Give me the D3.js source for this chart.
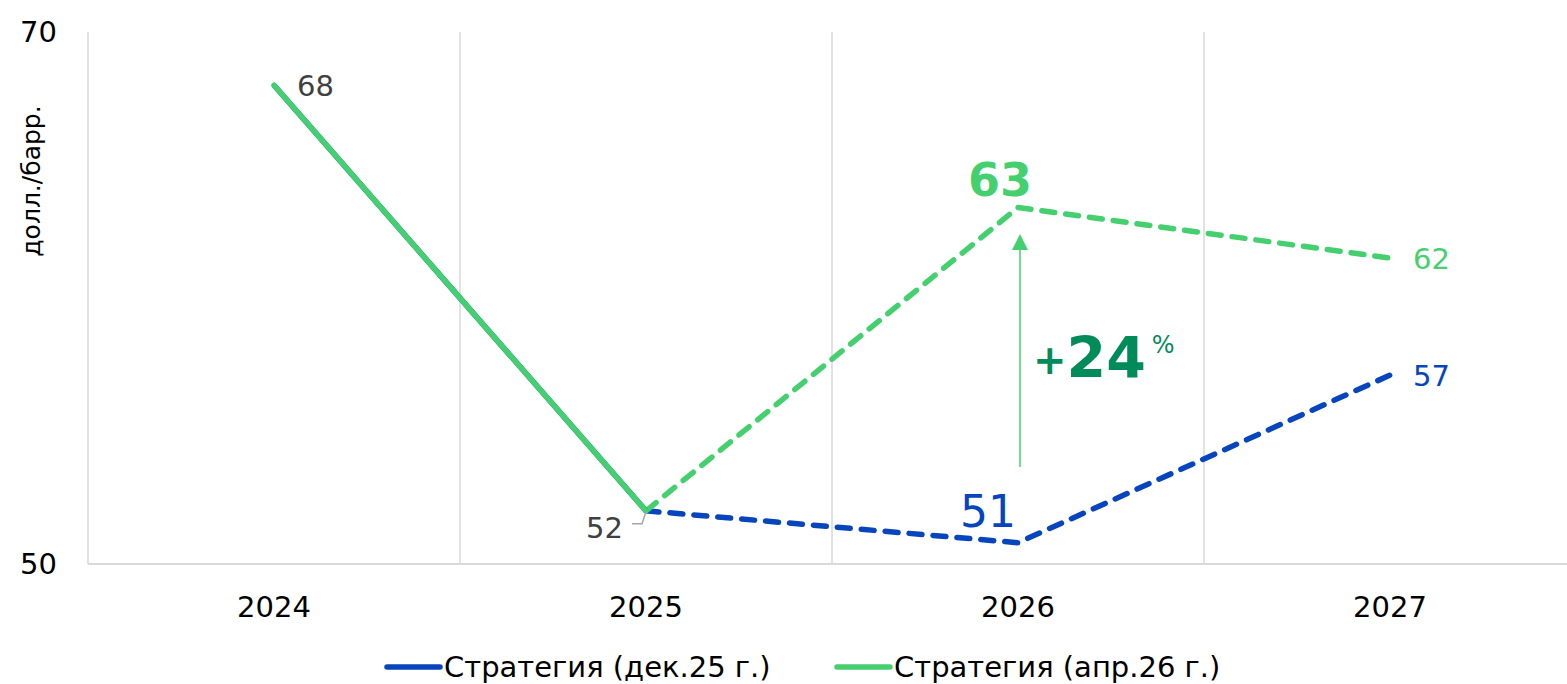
<!DOCTYPE html>
<html>
<head>
<meta charset="utf-8">
<script src="https://cdn.jsdelivr.net/npm/d3@7"></script>
<style>
  body { margin: 0; background: #fff; }
  text { font-family: "DejaVu Sans", sans-serif; }
</style>
</head>
<body>
<div id="chart"></div>
<script>
let w = 1567;
let h = 684;

// data
let years = ["2024", "2025", "2026", "2027"];
let decValues = [68, 52, 50.8, 57.1];     // Стратегия (дек.25 г.)
let aprValues = [68, 52, 63.4, 61.5];     // Стратегия (апр.26 г.)
let decLabels = ["", "", "51", "57"];
let aprLabels = ["68", "52", "63", "62"];
let yTicks = [50, 70];
let seriesNames = ["Стратегия (дек.25 г.)", "Стратегия (апр.26 г.)"];

let blue = "#0645bd";
let green = "#44d06f";
let darkGreen = "#008c5a";
let grey = "#404040";

let svg = d3.select("#chart").append("svg")
  .attr("width", w)
  .attr("height", h);

let xScale = d3.scaleBand().domain(years).range([88, 1576]);
let yScale = d3.scaleLinear().domain([50, 70]).range([564, 32]);
let cx = d => xScale(d) + xScale.bandwidth() / 2;

// grid lines between categories
svg.append("g").selectAll("line")
  .data(years)
  .join("line")
  .attr("x1", d => xScale(d))
  .attr("x2", d => xScale(d))
  .attr("y1", yScale(70))
  .attr("y2", yScale(50))
  .attr("stroke", "#d9d9d9")
  .attr("stroke-width", 1.5);

// bottom axis line
svg.append("line")
  .attr("x1", xScale.range()[0]).attr("x2", w)
  .attr("y1", yScale(50)).attr("y2", yScale(50))
  .attr("stroke", "#d9d9d9").attr("stroke-width", 2);

// y tick labels
svg.append("g").selectAll("text")
  .data(yTicks)
  .join("text")
  .attr("x", 57)
  .attr("y", d => yScale(d) + 10)
  .attr("text-anchor", "end")
  .attr("font-size", 29)
  .attr("fill", "#000")
  .text(d => d);

svg.append("text")
  .attr("transform", "translate(40,181) rotate(-90)")
  .attr("text-anchor", "middle")
  .attr("font-size", 25)
  .attr("fill", "#000")
  .text("долл./барр.");

// x tick labels
svg.append("g").selectAll("text")
  .data(years)
  .join("text")
  .attr("x", d => cx(d))
  .attr("y", 617)
  .attr("text-anchor", "middle")
  .attr("font-size", 29)
  .attr("fill", "#000")
  .text(d => d);

let line = d3.line()
  .x(d => cx(d.year))
  .y(d => yScale(d.v));

let decPts = years.map((y, i) => ({ year: y, v: decValues[i] }));
let aprPts = years.map((y, i) => ({ year: y, v: aprValues[i] }));

// dashed forecast parts
svg.append("path")
  .attr("d", line(decPts.slice(1)))
  .attr("fill", "none")
  .attr("stroke", blue)
  .attr("stroke-width", 5.5)
  .attr("stroke-linecap", "round")
  .attr("stroke-dasharray", "13 11");

svg.append("path")
  .attr("d", line(aprPts.slice(1)))
  .attr("fill", "none")
  .attr("stroke", green)
  .attr("stroke-width", 5.5)
  .attr("stroke-linecap", "round")
  .attr("stroke-dasharray", "13 11");

// solid actual part (green drawn over blue)
svg.append("path")
  .attr("d", line(decPts.slice(0, 2)))
  .attr("fill", "none").attr("stroke", blue).attr("stroke-width", 5.5);
svg.append("path")
  .attr("d", line(aprPts.slice(0, 2)))
  .attr("fill", "none").attr("stroke", green).attr("stroke-width", 5.5)
  .attr("stroke-linecap", "round");

// data labels
svg.append("text")
  .attr("x", cx("2024") + 23).attr("y", yScale(68) + 11)
  .attr("font-size", 29).attr("fill", grey)
  .text(aprLabels[0]);

// leader line for 52
svg.append("path")
  .attr("d", `M${cx("2025") - 14},${yScale(52) + 13} h10 l4,-12`)
  .attr("fill", "none").attr("stroke", "#a6a6a6").attr("stroke-width", 1.5);
svg.append("text")
  .attr("x", cx("2025") - 23).attr("y", yScale(52) + 27)
  .attr("text-anchor", "end")
  .attr("font-size", 29).attr("fill", grey)
  .text(aprLabels[1]);

svg.append("text")
  .attr("x", cx("2026") - 18).attr("y", yScale(aprValues[2]) - 12)
  .attr("text-anchor", "middle")
  .attr("font-size", 46).attr("font-weight", "bold").attr("fill", green)
  .text(aprLabels[2]);

svg.append("text")
  .attr("x", cx("2027") + 23).attr("y", yScale(aprValues[3]) + 11)
  .attr("font-size", 29).attr("fill", green)
  .text(aprLabels[3]);

svg.append("text")
  .attr("x", cx("2026") - 30).attr("y", yScale(decValues[2]) - 16)
  .attr("text-anchor", "middle")
  .attr("font-size", 44).attr("fill", blue)
  .text(decLabels[2]);

svg.append("text")
  .attr("x", cx("2027") + 23).attr("y", yScale(decValues[3]) + 11)
  .attr("font-size", 29).attr("fill", blue)
  .text(decLabels[3]);

// +24% arrow annotation
let ax = cx("2026") + 2;
svg.append("line")
  .attr("x1", ax).attr("x2", ax)
  .attr("y1", 467).attr("y2", 248)
  .attr("stroke", green).attr("stroke-width", 1.5);
svg.append("path")
  .attr("d", `M${ax},234 l-8,16 h16 z`)
  .attr("fill", green);

let note = svg.append("text")
  .attr("x", ax + 13).attr("y", 378)
  .attr("fill", darkGreen)
  .attr("font-weight", "bold");
note.append("tspan").attr("font-size", 40).attr("dy", -4).text("+");
note.append("tspan").attr("font-size", 57).attr("dy", 4).text("24");
note.append("tspan").attr("font-size", 24).attr("font-weight", "normal")
  .attr("dx", 6).attr("dy", -25).text("%");

// legend
let legendX = [385, 835];
let legendColors = [blue, green];
let legend = svg.append("g").selectAll("g")
  .data(seriesNames)
  .join("g")
  .attr("transform", (d, i) => `translate(${legendX[i]},667)`);
legend.append("line")
  .attr("x1", 2).attr("x2", 55)
  .attr("stroke", (d, i) => legendColors[i])
  .attr("stroke-width", 5.5)
  .attr("stroke-linecap", "round");
legend.append("text")
  .attr("x", 59).attr("y", 10)
  .attr("font-size", 29)
  .attr("fill", "#000")
  .text(d => d);
</script>
</body>
</html>
